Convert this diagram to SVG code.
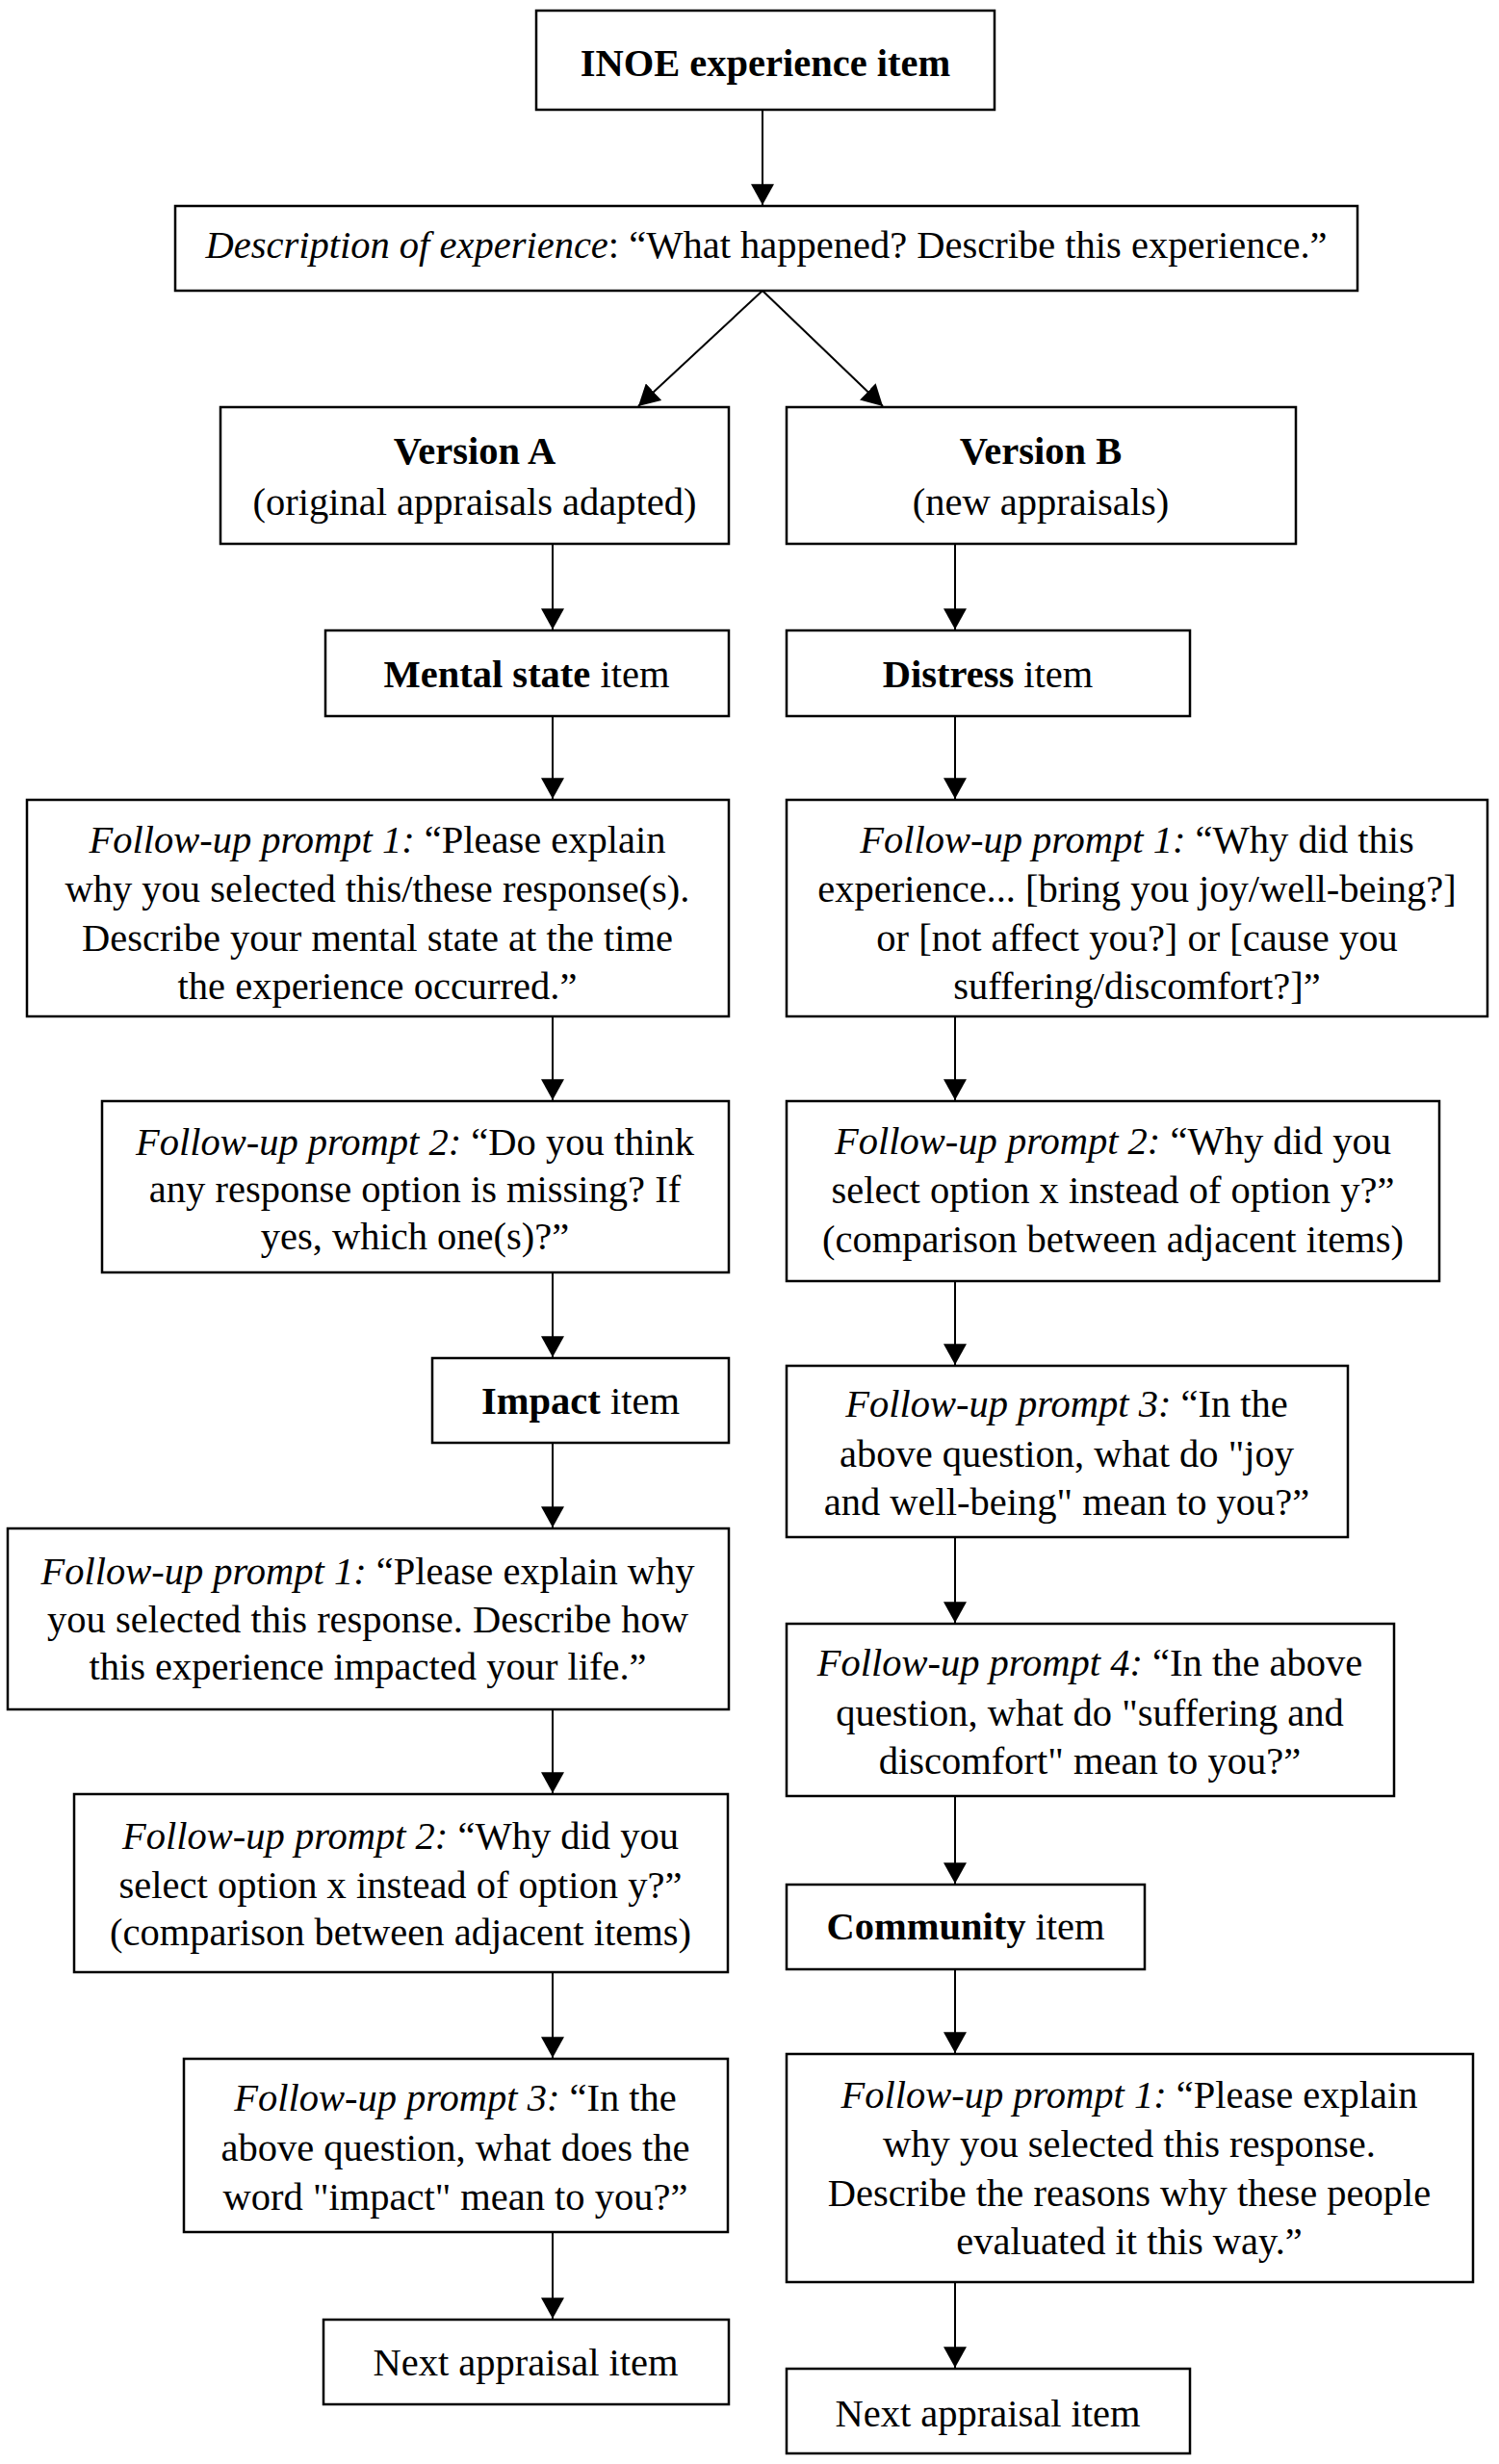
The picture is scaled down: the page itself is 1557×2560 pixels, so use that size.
<svg xmlns="http://www.w3.org/2000/svg" width="1557" height="2560" viewBox="0 0 1557 2560">
<style>
.bx{fill:#fff;stroke:#000;stroke-width:2.5}
.t{font-family:"Liberation Serif","Times New Roman",serif;font-size:40.5px;fill:#000;text-anchor:middle}
.b{font-weight:bold}
.i{font-style:italic}
.c{stroke:#000;stroke-width:2;fill:none;marker-end:url(#ah)}
</style>
<defs>
<marker id="ah" markerUnits="userSpaceOnUse" markerWidth="24" markerHeight="24" viewBox="0 0 22 22" refX="20" refY="11" orient="auto">
<path d="M0,0 L20,11 L0,22 Z" fill="#000"/>
</marker>
</defs>
<rect width="1557" height="2560" fill="#fff"/>
<g id="connectors">
<line class="c" x1="792" y1="114" x2="792" y2="213"/>
<line class="c" x1="792" y1="302" x2="663" y2="422"/>
<line class="c" x1="792" y1="302" x2="917" y2="422"/>
<line class="c" x1="574" y1="565" x2="574" y2="654"/>
<line class="c" x1="574" y1="744" x2="574" y2="830"/>
<line class="c" x1="574" y1="1056" x2="574" y2="1143"/>
<line class="c" x1="574" y1="1322" x2="574" y2="1410"/>
<line class="c" x1="574" y1="1499" x2="574" y2="1587"/>
<line class="c" x1="574" y1="1776" x2="574" y2="1863"/>
<line class="c" x1="574" y1="2049" x2="574" y2="2138"/>
<line class="c" x1="574" y1="2319" x2="574" y2="2409"/>
<line class="c" x1="992" y1="565" x2="992" y2="654"/>
<line class="c" x1="992" y1="744" x2="992" y2="830"/>
<line class="c" x1="992" y1="1056" x2="992" y2="1143"/>
<line class="c" x1="992" y1="1331" x2="992" y2="1418"/>
<line class="c" x1="992" y1="1597" x2="992" y2="1686"/>
<line class="c" x1="992" y1="1866" x2="992" y2="1957"/>
<line class="c" x1="992" y1="2046" x2="992" y2="2133"/>
<line class="c" x1="992" y1="2371" x2="992" y2="2460"/>
</g>
<g id="inoe">
<rect class="bx" x="557" y="11" width="476" height="103"/>
<text class="t b" x="795" y="79">INOE experience item</text>
</g>
<g id="description">
<rect class="bx" x="182" y="214" width="1228" height="88"/>
<text class="t" x="796" y="268"><tspan class="i">Description of experience</tspan>: “What happened? Describe this experience.”</text>
</g>
<g id="versionA">
<rect class="bx" x="229" y="423" width="528" height="142"/>
<text class="t b" x="493" y="482">Version A</text>
<text class="t" x="493" y="535">(original appraisals adapted)</text>
</g>
<g id="versionB">
<rect class="bx" x="817" y="423" width="529" height="142"/>
<text class="t b" x="1081" y="482">Version B</text>
<text class="t" x="1081" y="535">(new appraisals)</text>
</g>
<g id="mentalState">
<rect class="bx" x="338" y="655" width="419" height="89"/>
<text class="t" x="547" y="714"><tspan class="b">Mental state</tspan> item</text>
</g>
<g id="distress">
<rect class="bx" x="817" y="655" width="419" height="89"/>
<text class="t" x="1026" y="714"><tspan class="b">Distress</tspan> item</text>
</g>
<g id="msPrompt1">
<rect class="bx" x="28" y="831" width="729" height="225"/>
<text class="t" x="392" y="886"><tspan class="i">Follow-up prompt 1:</tspan> “Please explain</text>
<text class="t" x="392" y="937">why you selected this/these response(s).</text>
<text class="t" x="392" y="988">Describe your mental state at the time</text>
<text class="t" x="392" y="1038">the experience occurred.”</text>
</g>
<g id="dPrompt1">
<rect class="bx" x="817" y="831" width="728" height="225"/>
<text class="t" x="1181" y="886"><tspan class="i">Follow-up prompt 1:</tspan> “Why did this</text>
<text class="t" x="1181" y="937">experience... [bring you joy/well-being?]</text>
<text class="t" x="1181" y="988">or [not affect you?] or [cause you</text>
<text class="t" x="1181" y="1038">suffering/discomfort?]”</text>
</g>
<g id="msPrompt2">
<rect class="bx" x="106" y="1144" width="651" height="178"/>
<text class="t" x="431" y="1200"><tspan class="i">Follow-up prompt 2:</tspan> “Do you think</text>
<text class="t" x="431" y="1249">any response option is missing? If</text>
<text class="t" x="431" y="1298">yes, which one(s)?”</text>
</g>
<g id="dPrompt2">
<rect class="bx" x="817" y="1144" width="678" height="187"/>
<text class="t" x="1156" y="1199"><tspan class="i">Follow-up prompt 2:</tspan> “Why did you</text>
<text class="t" x="1156" y="1250">select option x instead of option y?”</text>
<text class="t" x="1156" y="1301">(comparison between adjacent items)</text>
</g>
<g id="impact">
<rect class="bx" x="449" y="1411" width="308" height="88"/>
<text class="t" x="603" y="1469"><tspan class="b">Impact</tspan> item</text>
</g>
<g id="dPrompt3">
<rect class="bx" x="817" y="1419" width="583" height="178"/>
<text class="t" x="1108" y="1472"><tspan class="i">Follow-up prompt 3:</tspan> “In the</text>
<text class="t" x="1108" y="1524">above question, what do "joy</text>
<text class="t" x="1108" y="1574">and well-being" mean to you?”</text>
</g>
<g id="iPrompt1">
<rect class="bx" x="8" y="1588" width="749" height="188"/>
<text class="t" x="382" y="1646"><tspan class="i">Follow-up prompt 1:</tspan> “Please explain why</text>
<text class="t" x="382" y="1696">you selected this response. Describe how</text>
<text class="t" x="382" y="1745">this experience impacted your life.”</text>
</g>
<g id="dPrompt4">
<rect class="bx" x="817" y="1687" width="631" height="179"/>
<text class="t" x="1132" y="1741"><tspan class="i">Follow-up prompt 4:</tspan> “In the above</text>
<text class="t" x="1132" y="1793">question, what do "suffering and</text>
<text class="t" x="1132" y="1843">discomfort" mean to you?”</text>
</g>
<g id="iPrompt2">
<rect class="bx" x="77" y="1864" width="679" height="185"/>
<text class="t" x="416" y="1921"><tspan class="i">Follow-up prompt 2:</tspan> “Why did you</text>
<text class="t" x="416" y="1972">select option x instead of option y?”</text>
<text class="t" x="416" y="2021">(comparison between adjacent items)</text>
</g>
<g id="community">
<rect class="bx" x="817" y="1958" width="372" height="88"/>
<text class="t" x="1003" y="2015"><tspan class="b">Community</tspan> item</text>
</g>
<g id="iPrompt3">
<rect class="bx" x="191" y="2139" width="565" height="180"/>
<text class="t" x="473" y="2193"><tspan class="i">Follow-up prompt 3:</tspan> “In the</text>
<text class="t" x="473" y="2245">above question, what does the</text>
<text class="t" x="473" y="2296">word "impact" mean to you?”</text>
</g>
<g id="cPrompt1">
<rect class="bx" x="817" y="2134" width="713" height="237"/>
<text class="t" x="1173" y="2190"><tspan class="i">Follow-up prompt 1:</tspan> “Please explain</text>
<text class="t" x="1173" y="2241">why you selected this response.</text>
<text class="t" x="1173" y="2292">Describe the reasons why these people</text>
<text class="t" x="1173" y="2342">evaluated it this way.”</text>
</g>
<g id="nextA">
<rect class="bx" x="336" y="2410" width="421" height="88"/>
<text class="t" x="546" y="2468">Next appraisal item</text>
</g>
<g id="nextB">
<rect class="bx" x="817" y="2461" width="419" height="88"/>
<text class="t" x="1026" y="2521">Next appraisal item</text>
</g>
</svg>
